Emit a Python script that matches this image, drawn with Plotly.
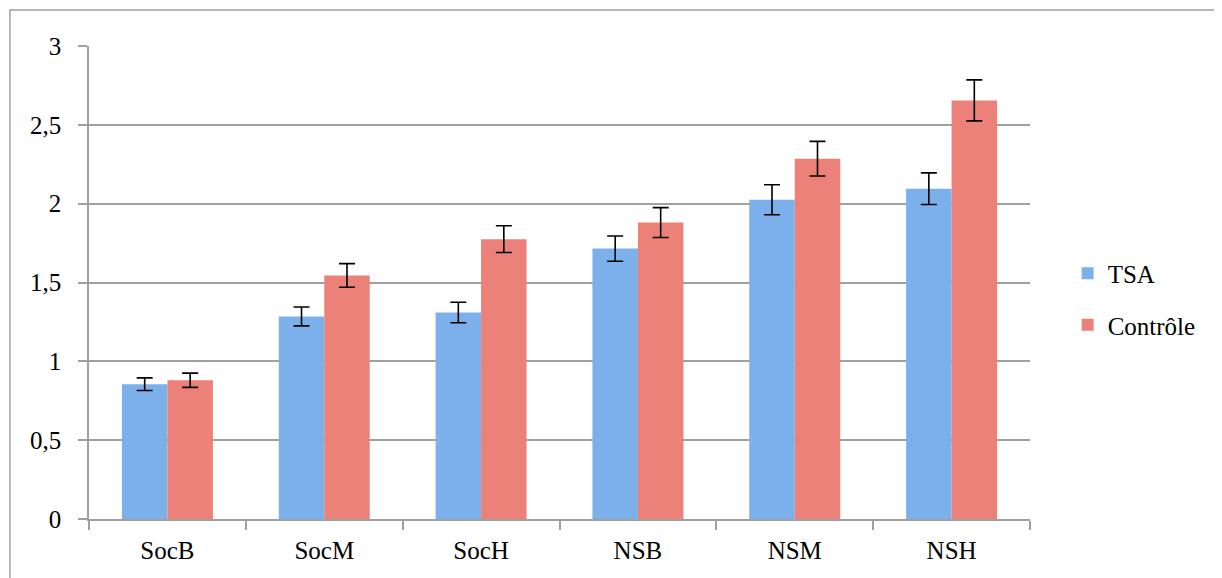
import plotly.graph_objects as go

categories = ["SocB", "SocM", "SocH", "NSB", "NSM", "NSH"]
tsa_values = [0.855, 1.285, 1.31, 1.715, 2.025, 2.095]
tsa_errors = [0.04, 0.06, 0.065, 0.08, 0.095, 0.10]
ctrl_values = [0.88, 1.545, 1.775, 1.88, 2.285, 2.655]
ctrl_errors = [0.045, 0.075, 0.085, 0.095, 0.11, 0.13]

font_family = "Liberation Serif, Times New Roman, serif"

fig = go.Figure()
fig.add_trace(go.Bar(
    name="TSA", x=categories, y=tsa_values,
    marker=dict(color="#7cb0ea", line=dict(width=0)),
    error_y=dict(type="data", array=tsa_errors, color="black", thickness=1.6, width=8),
    legendgroup="a",
))
fig.add_trace(go.Bar(
    name="Contrôle", x=categories, y=ctrl_values,
    marker=dict(color="#ec817a", line=dict(width=0)),
    error_y=dict(type="data", array=ctrl_errors, color="black", thickness=1.6, width=8),
    legendgroup="b",
))

fig.update_layout(
    width=1222, height=578,
    margin=dict(l=81, r=200, t=38, b=67),
    paper_bgcolor="white", plot_bgcolor="white",
    barmode="group", bargap=0.42, bargroupgap=0,
    separators=", ",
    font=dict(family=font_family, size=25, color="black"),
    legend=dict(x=1.04, xanchor="left", y=0.465, yanchor="middle",
                font=dict(family=font_family, size=25, color="black"),
                tracegroupgap=16, itemwidth=30),
    showlegend=True,
)
fig.update_xaxes(
    showgrid=False, showline=True, linecolor="#a0a0a0", linewidth=1.5,
    ticks="outside", ticklen=9, tickcolor="#a0a0a0", tickwidth=1.5,
    tickson="boundaries", ticklabelstandoff=8,
    tickfont=dict(family=font_family, size=25, color="black"),
)
fig.update_yaxes(
    range=[0, 3], dtick=0.5, showgrid=True, gridcolor="#a0a0a0", gridwidth=1.5,
    showline=True, linecolor="#a0a0a0", linewidth=1.5,
    ticks="outside", ticklen=9, tickcolor="#a0a0a0", tickwidth=1.5,
    zeroline=False, ticklabelstandoff=12,
    tickfont=dict(family=font_family, size=25, color="black"),
)
fig.add_shape(type="rect", xref="paper", yref="paper",
              x0=-0.084, x1=3, y0=-2, y1=1.076,
              line=dict(color="#a0a0a0", width=1.5), fillcolor="rgba(0,0,0,0)", layer="below")

fig.write_html("out.html")
